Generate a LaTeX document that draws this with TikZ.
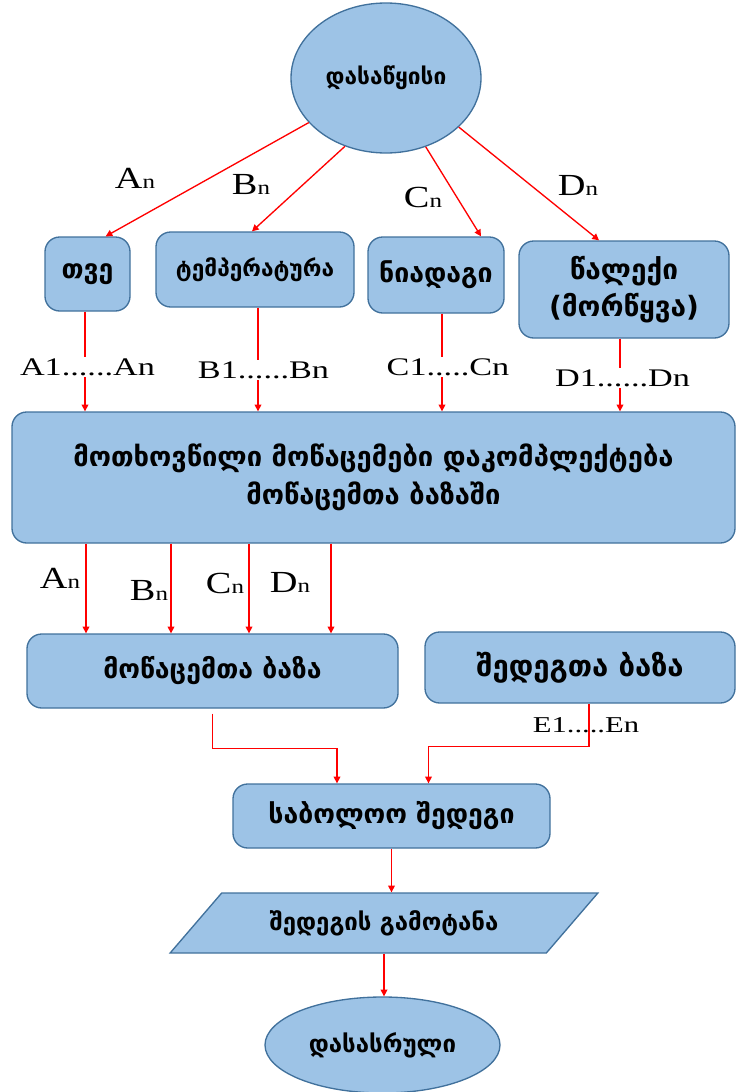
\documentclass[tikz,border=0pt]{standalone}
\usepackage{fontspec}
\usepackage{graphicx}
\setmainfont{Liberation Serif}
\newfontfamily\geofont[Script=Georgian]{DejaVu Sans}
\usetikzlibrary{shapes.geometric,arrows.meta}

\definecolor{boxfill}{RGB}{157,195,230}
\definecolor{boxline}{RGB}{65,113,156}
\newcommand{\pxu}{0.75pt}
\newcommand{\wide}[1]{\scalebox{1.35}[1]{#1}}
\newcommand{\idx}[2]{\scalebox{1.25}[1]{#1{\fontsize{15}{15}\selectfont #2}}}
\newcommand{\gsize}[1]{\fontsize{#1}{28}\selectfont}

\begin{document}
\begin{tikzpicture}[x=0.75pt,y=-0.75pt,
	box/.style={draw=boxline, fill=boxfill, line width=1pt, rounded corners=11pt, align=center, inner sep=0pt, font=\geofont\bfseries\gsize{20}},
	oval/.style={ellipse, draw=boxline, fill=boxfill, line width=1pt, inner sep=0pt, font=\geofont\bfseries\gsize{18}},
	para/.style={trapezium, trapezium left angle=35, trapezium right angle=145, trapezium stretches=true, draw=boxline, fill=boxfill, line width=1pt, inner sep=0pt, font=\geofont\bfseries\gsize{18}},
	arr/.style={draw=red, line width=1pt, -{Triangle[length=5pt,width=5pt]}},
	lbl/.style={font=\fontsize{19}{19}\selectfont, inner sep=1pt},
	big/.style={font=\fontsize{23}{23}\selectfont, inner sep=1pt},
	cover/.style={lbl, fill=white}]
	\useasboundingbox (0,0) rectangle (737,1092);
	%start
		\node[oval, minimum width=190*\pxu, minimum height=150*\pxu, font=\geofont\bfseries\gsize{17}] (start) at (386,78) {დასაწყისი};
	%input boxes
		\node[box, minimum width=85*\pxu, minimum height=74*\pxu] (month) at (87.5,274) {თვე};
		\node[box, minimum width=198*\pxu, minimum height=75*\pxu, font=\geofont\bfseries\gsize{17}] (temp) at (255,269.5) {ტემპერატურა};
		\node[box, minimum width=136*\pxu, minimum height=76*\pxu] (soil) at (436,275) {ნიადაგი};
		\node[box, minimum width=210*\pxu, minimum height=97*\pxu, font=\geofont\bfseries\gsize{21}] (rain) at (624,289.5) {წალექი\\(მორწყვა)};
	%request
		\node[box, minimum width=723*\pxu, minimum height=131*\pxu, font=\geofont\bfseries\gsize{20.5}] (req) at (373.5,477.5) {მოთხოვწილი მოწაცემები დაკომპლექტება\\მოწაცემთა ბაზაში};
	%data bases
		\node[box, minimum width=371*\pxu, minimum height=74*\pxu] (db) at (212.5,671) {მოწაცემთა ბაზა};
		\node[box, minimum width=310*\pxu, minimum height=71*\pxu, font=\geofont\bfseries\gsize{22}] (resdb) at (580,667.5) {შედეგთა ბაზა};
	%result, output, end
		\node[box, minimum width=317*\pxu, minimum height=64*\pxu] (final) at (391.5,816) {საბოლოო შედეგი};
		\node[para, minimum width=429*\pxu, minimum height=60*\pxu] (out) at (384,923) {შედეგის გამოტანა};
		\node[oval, minimum width=235*\pxu, minimum height=96*\pxu] (end) at (382.5,1045) {დასასრული};
	%start -> inputs
		\draw[arr] (start.210) -- ([xshift=-25*\pxu]month.north east);
		\draw[arr] (start.239) -- ([xshift=-3*\pxu]temp.north);
		\draw[arr] (start.300) -- ([xshift=45*\pxu]soil.north);
		\draw[arr] (start.326) -- ([xshift=-25*\pxu]rain.north);
		\node[big] (la) at (135,178) {\idx{A}{n}};
		\node[big] (lb) at (251,185) {\idx{B}{n}};
		\node[big] (lc) at (423,197) {\idx{C}{n}};
		\node[big] (ld) at (578,185) {\idx{D}{n}};
	%inputs -> request
		\draw[arr] ([xshift=-2.5*\pxu]month.south) -- ([xshift=-2.5*\pxu]month.south |- req.north);
		\draw[arr] ([xshift=3*\pxu]temp.south) -- ([xshift=3*\pxu]temp.south |- req.north);
		\draw[arr] ([xshift=6*\pxu]soil.south) -- ([xshift=6*\pxu]soil.south |- req.north);
		\draw[arr] ([xshift=-4*\pxu]rain.south) -- ([xshift=-4*\pxu]rain.south |- req.north);
		\node[cover] (ra) at (87.5,367) {\wide{A1......An}};
		\node[cover] (rb) at (263.5,370) {\wide{B1......Bn}};
		\node[cover] (rc) at (448,367) {\wide{C1.....Cn}};
		\node[cover] (rd) at (622.5,378) {\wide{D1......Dn}};
	%request -> data base
		\draw[arr] ([xshift=-126.5*\pxu]db.north |- req.south) -- ([xshift=-126.5*\pxu]db.north);
		\draw[arr] ([xshift=-41.5*\pxu]db.north |- req.south) -- ([xshift=-41.5*\pxu]db.north);
		\draw[arr] ([xshift=36.5*\pxu]db.north |- req.south) -- ([xshift=36.5*\pxu]db.north);
		\draw[arr] ([xshift=118.5*\pxu]db.north |- req.south) -- ([xshift=118.5*\pxu]db.north);
		\node[big] (sa) at (60,578) {\idx{A}{n}};
		\node[big] (sb) at (149,590) {\idx{B}{n}};
		\node[big] (sc) at (225,583) {\idx{C}{n}};
		\node[big] (sd) at (290,582) {\idx{D}{n}};
	%bases -> result
		\draw[arr] ([yshift=-5*\pxu]db.south) -- ++(0,35) -| ([xshift=-54.5*\pxu]final.north);
		\draw[arr] ([xshift=9*\pxu]resdb.south) -- ++(0,43) -| ([xshift=37*\pxu]final.north);
		\node[lbl, font=\fontsize{17}{17}\selectfont] (le) at (586,725) {\wide{E1.....En}};
	%result -> output -> end
		\draw[arr] (final.south) -- (final.south |- out.north);
		\draw[arr] (out.south) -- (out.south |- end.north);
\end{tikzpicture}
\end{document}
